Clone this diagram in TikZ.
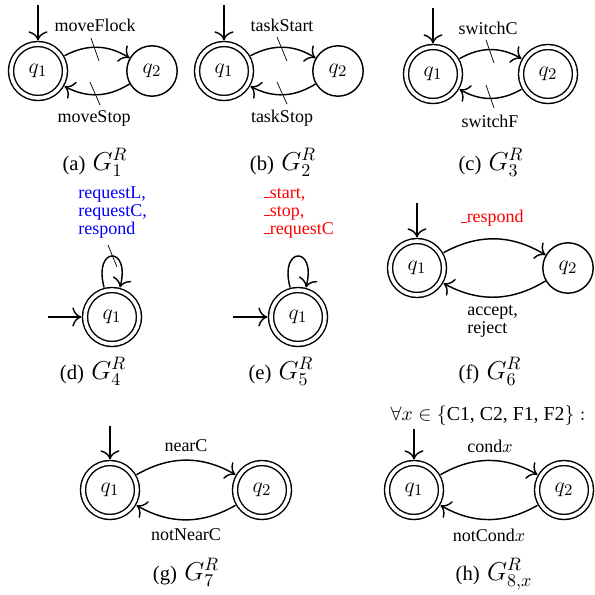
\documentclass[tikz,border=0pt]{standalone}
\usepackage{fontspec}
\setmainfont{Liberation Serif}
\usetikzlibrary{arrows.meta}
\newcommand{\subcap}[2]{{\fontsize{11.5}{13}\selectfont(#1)}\hspace{4pt}{\fontsize{14}{16}\selectfont$#2$}}
\newcommand{\usc}{\leavevmode\kern.06em\vbox{\hrule width.3em}}
\begin{document}
\begin{tikzpicture}[x=0.5556pt, y=0.5556pt,
  qnode/.style={circle, draw, thick, minimum size=28pt, inner sep=0pt, font=\fontsize{13}{15}\selectfont},
  qacc/.style={qnode, double, double distance=2pt, minimum size=30pt, outer sep=2pt},
  trans/.style={-{To[scale=1.5]}, thick},
  tick/.style={thin},
  lab/.style={inner sep=1pt},
  lablist/.style={align=left, inner sep=0pt, anchor=west, font=\fontsize{10}{10}\selectfont},
  capt/.style={anchor=base, inner sep=0pt}]
\useasboundingbox (0,0) rectangle (595,-595);

% (a)
\node[qacc] (a1) at (38,-71) {$q_1$};
\node[qnode] (a2) at (152,-71) {$q_2$};
\coordinate (a0) at (38,-5);
\coordinate (at1) at (91,-38);
\coordinate (at2) at (99,-61);
\coordinate (ab1) at (90,-82);
\coordinate (ab2) at (100,-105);
\draw[trans] (a0) -- (a1);
\draw[trans] (a1) to[bend left=30] (a2);
\draw[trans] (a2) to[bend left=30] (a1);
\node[lab] (aup) at (95,-25) {moveFlock};
\node[lab] (adn) at (94,-118) {moveStop};
\draw[tick] (at1) -- (at2);
\draw[tick] (ab1) -- (ab2);
\node[capt] (acap) at (95,-170) {\subcap{a}{G^R_1}};

% (b)
\node[qacc] (b1) at (224,-71) {$q_1$};
\node[qnode] (b2) at (338,-71) {$q_2$};
\coordinate (b0) at (224,-5);
\coordinate (bt1) at (277,-37);
\coordinate (bt2) at (287,-61);
\coordinate (bb1) at (277,-82);
\coordinate (bb2) at (287,-104);
\draw[trans] (b0) -- (b1);
\draw[trans] (b1) to[bend left=30] (b2);
\draw[trans] (b2) to[bend left=30] (b1);
\node[lab] (bup) at (282,-25) {taskStart};
\node[lab] (bdn) at (282,-118) {taskStop};
\draw[tick] (bt1) -- (bt2);
\draw[tick] (bb1) -- (bb2);
\node[capt] (bcap) at (283,-170) {\subcap{b}{G^R_2}};

% (c)
\node[qacc] (c1) at (433,-74) {$q_1$};
\node[qacc] (c2) at (548,-74) {$q_2$};
\coordinate (c0) at (433,-8);
\coordinate (ct1) at (486,-40);
\coordinate (ct2) at (494,-63);
\coordinate (cb1) at (486,-85);
\coordinate (cb2) at (494,-108);
\draw[trans] (c0) -- (c1);
\draw[trans] (c1) to[bend left=30] (c2);
\draw[trans] (c2) to[bend left=30] (c1);
\node[lab] (cup) at (488,-28) {switchC};
\node[lab] (cdn) at (490,-121) {switchF};
\draw[tick] (ct1) -- (ct2);
\draw[tick] (cb1) -- (cb2);
\node[capt] (ccap) at (491,-170) {\subcap{c}{G^R_3}};

% (d)
\node[qacc] (d1) at (112,-317) {$q_1$};
\coordinate (d0) at (48,-317);
\coordinate (dt1) at (108,-245);
\coordinate (dt2) at (117,-267);
\draw[trans] (d0) -- (d1);
\draw[trans] (d1) to[out=105, in=75, looseness=7] (d1);
\node[lablist, text=blue] (dlab) at (78,-213) {requestL,\\requestC,\\respond};
\draw[tick] (dt1) -- (dt2);
\node[capt] (dcap) at (93,-379) {\subcap{d}{G^R_4}};

% (e)
\node[qacc] (e1) at (298,-317) {$q_1$};
\coordinate (e0) at (233,-317);
\draw[trans] (e0) -- (e1);
\draw[trans] (e1) to[out=105, in=75, looseness=7] (e1);
\node[lablist, text=red] (elab) at (263,-213) {\usc start,\\\usc stop,\\\usc requestC};
\node[capt] (ecap) at (281,-379) {\subcap{e}{G^R_5}};

% (f)
\node[qacc] (f1) at (417,-268) {$q_1$};
\node[qnode] (f2) at (568,-268) {$q_2$};
\coordinate (f0) at (417,-203);
\draw[trans] (f0) -- (f1);
\draw[trans] (f1) to[bend left=30] (f2);
\draw[trans] (f2) to[bend left=30] (f1);
\node[lab, text=red] (fup) at (492,-218) {\usc respond};
\node[lablist] (fdn) at (467,-321) {accept,\\reject};
\node[capt] (fcap) at (490,-379) {\subcap{f}{G^R_6}};

% (g)
\node[qacc] (g1) at (110,-490) {$q_1$};
\node[qacc] (g2) at (262,-490) {$q_2$};
\coordinate (g0) at (110,-426);
\draw[trans] (g0) -- (g1);
\draw[trans] (g1) to[bend left=30] (g2);
\draw[trans] (g2) to[bend left=30] (g1);
\node[lab] (gup) at (186,-446) {nearC};
\node[lab] (gdn) at (186,-535) {notNearC};
\node[capt] (gcap) at (186,-580) {\subcap{g}{G^R_7}};

% (h)
\node[lab, font=\fontsize{11}{13}\selectfont] (hall) at (488,-416) {$\forall x\in\{$C1, C2, F1, F2$\}:$};
\node[qacc] (h1) at (414,-490) {$q_1$};
\node[qacc] (h2) at (564,-490) {$q_2$};
\coordinate (h0) at (414,-429);
\draw[trans] (h0) -- (h1);
\draw[trans] (h1) to[bend left=30] (h2);
\draw[trans] (h2) to[bend left=30] (h1);
\node[lab] (hup) at (490,-446) {cond$x$};
\node[lab] (hdn) at (489,-535) {notCond$x$};
\node[capt] (hcap) at (494,-580) {\subcap{h}{G^R_{8,x}}};

\end{tikzpicture}
\end{document}
